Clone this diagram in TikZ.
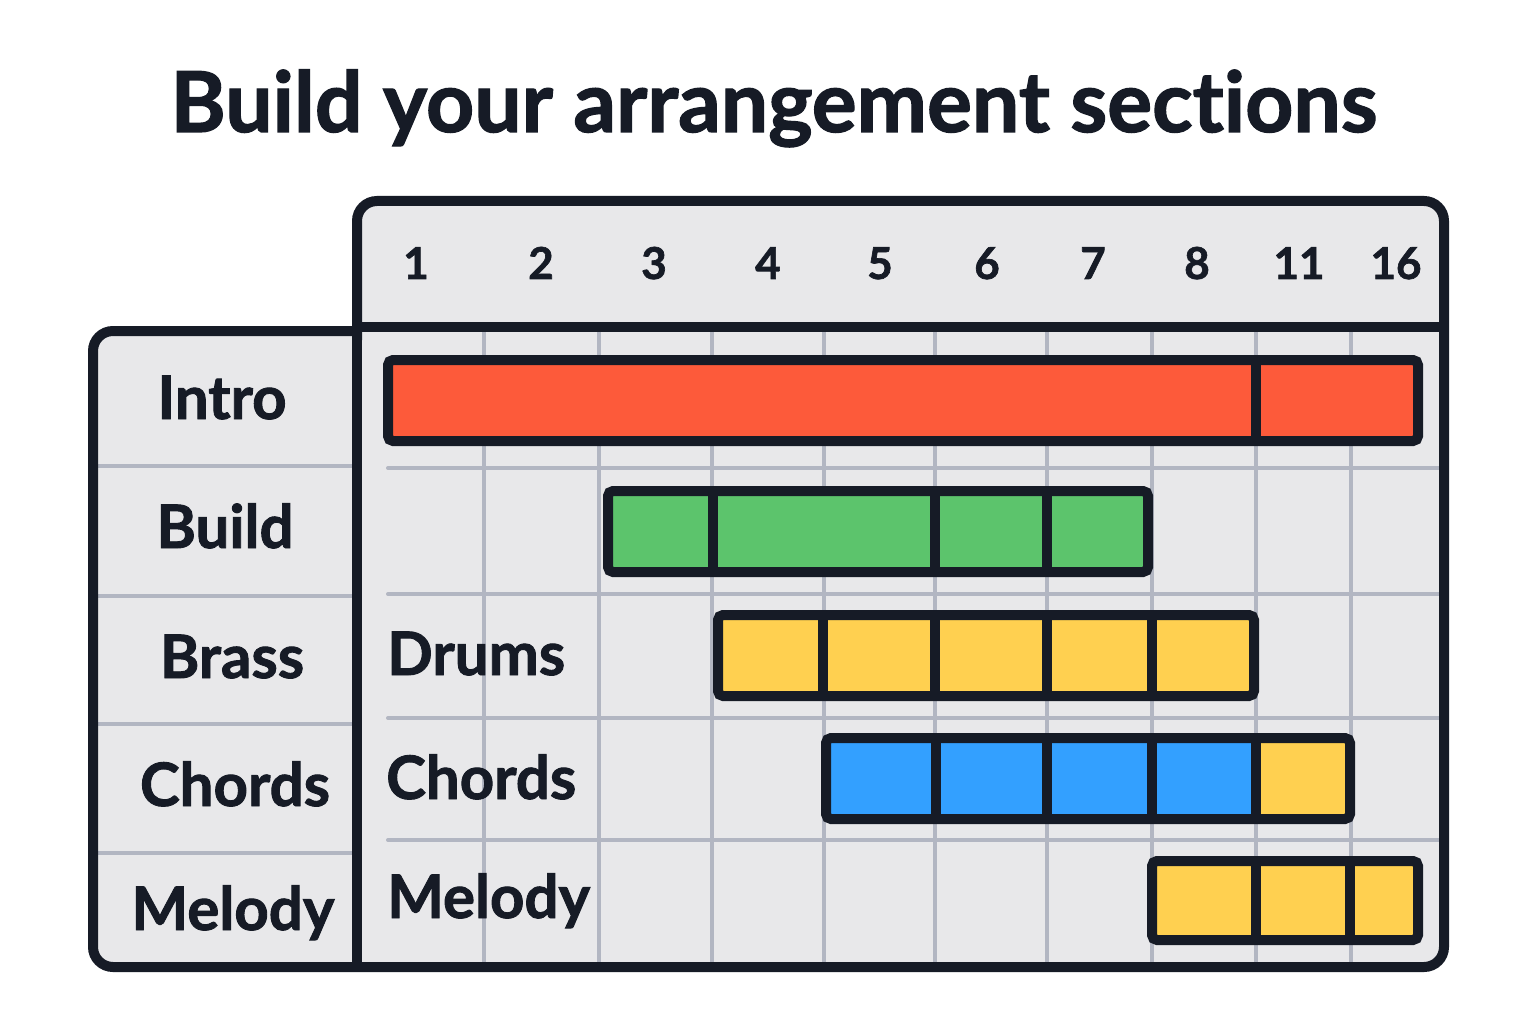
\documentclass[tikz,border=0pt]{standalone}
\usepackage{fontspec}
\setmainfont{Lato}[Ligatures=NoCommon, BoldFeatures={FakeBold=1.5}]
\definecolor{ink}{RGB}{22,27,38}
\definecolor{panel}{RGB}{232,232,234}
\definecolor{gridc}{RGB}{178,182,194}
\definecolor{barred}{RGB}{253,90,58}
\definecolor{bargreen}{RGB}{92,196,108}
\definecolor{baryellow}{RGB}{255,208,80}
\definecolor{barblue}{RGB}{51,160,255}
\tikzset{
  inkline/.style={draw=ink, line width=10pt},
  gridline/.style={draw=gridc, line width=4pt},
  barframe/.style={draw=ink, line width=10pt, rounded corners=5pt},
  lbl/.style={text=ink, font=\bfseries\fontsize{60}{60}\selectfont, inner sep=0pt, anchor=base},
  rlbl/.style={lbl, anchor=base west},
  num/.style={text=ink, font=\bfseries\fontsize{44}{44}\selectfont, inner sep=0pt, anchor=base},
}
\begin{document}
\begin{tikzpicture}[x=1pt,y=-1pt]
\useasboundingbox[fill=white] (0,0) rectangle (1536,1024);
% title
\node[text=ink, font=\bfseries\fontsize{84}{84}\selectfont, inner sep=0pt, anchor=base] (title) at (774,132) {Build your arrangement sections};
% panel fills
\fill[panel, rounded corners=20pt] (93,331) rectangle (357,967);
\fill[panel] (200,331) rectangle (357,967);
\fill[panel, rounded corners=20pt] (357,201) rectangle (1444,967);
\fill[panel] (357,600) rectangle (700,967);
% grid
\foreach \x in {484,599,712,824,935,1047,1152,1256,1351}
  \draw[gridline] (\x,332) -- (\x,962);
\foreach \y in {468,594,718,840}
  \draw[gridline, line cap=round] (388,\y) -- (1440,\y);
\foreach \y in {466,596,724,853}
  \draw[gridline] (98,\y) -- (352,\y);
% outline
\draw[inkline, rounded corners=20pt] (357,331) -- (93,331) -- (93,967) -- (1444,967) -- (1444,201) -- (357,201) -- (357,340);
\draw[inkline] (357,331) -- (357,967);
\draw[inkline] (357,327) -- (1444,327);
% header numbers
\foreach \n/\x in {1/416,2/541,3/654,4/768,5/880,6/987,7/1093,8/1197,11/1299,16/1396}
  \node[num] (h\n) at (\x,279) {\n};
% left labels
\node[lbl] (lintro) at (222,419) {Intro};
\node[lbl] (lbuild) at (225,548) {Build};
\node[lbl] (lbrass) at (232,678) {Brass};
\node[lbl] (lchords) at (235,806) {Chords};
\node[lbl] (lmelody) at (233,930) {Melody};
% right labels
\node[rlbl] (rdrums) at (387,675) {Drums};
\node[rlbl] (rchords) at (386,799) {Chords};
\node[rlbl] (rmelody) at (387,918) {Melody};
% Intro bar
\fill[barred] (388,360) rectangle (1418,441);
\draw[barframe] (388,360) rectangle (1418,441);
\draw[inkline] (1256,360) -- (1256,441);
% Build bar
\fill[bargreen] (608,491) rectangle (1148,572);
\draw[barframe] (608,491) rectangle (1148,572);
\foreach \x in {713,935,1047} \draw[inkline] (\x,491) -- (\x,572);
% Drums bar
\fill[baryellow] (718,615) rectangle (1254,696);
\draw[barframe] (718,615) rectangle (1254,696);
\foreach \x in {823,935,1047,1152} \draw[inkline] (\x,615) -- (\x,696);
% Chords bar
\fill[barblue] (826,738) rectangle (1256,819);
\fill[baryellow] (1256,738) rectangle (1350,819);
\draw[barframe] (826,738) rectangle (1350,819);
\foreach \x in {936,1047,1152,1256} \draw[inkline] (\x,738) -- (\x,819);
% Melody bar
\fill[baryellow] (1152,861) rectangle (1418,940);
\draw[barframe] (1152,861) rectangle (1418,940);
\foreach \x in {1256,1350} \draw[inkline] (\x,861) -- (\x,940);
\end{tikzpicture}
\end{document}
